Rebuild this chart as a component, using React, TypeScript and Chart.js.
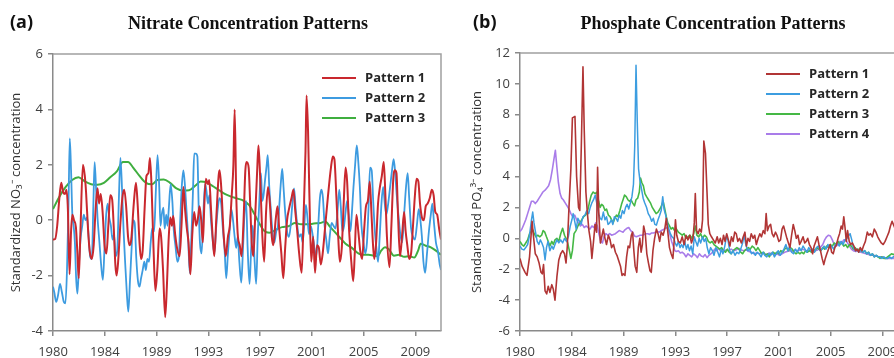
import React, { useEffect, useRef } from "react";
import { Chart, registerables } from "chart.js";

Chart.register(...registerables);

// ---- Axis labels -------------------------------------------------------
const X_TICK_LABELS = ["1980", "1984", "1989", "1993", "1997", "2001", "2005", "2009"];
const X_START = 1980;
const X_END = 2010.5;
const X_TICK_STEP = 4.07; // years between labelled ticks

// ---- Data: [years since Jan 1980, standardized value] -------------------
// Panel (a) nitrate
const nitrateP1: [number, number][] = [
  [0, -0.7], [0.17, -0.68], [0.33, -0.2], [0.5, 0.8], [0.65, 1.35], [0.8, 1.0], [0.95, 0.95], [1.05, 1.1], [1.17, 0.4], [1.3, -1.95],
  [1.42, -0.4], [1.52, 0.2], [1.65, 0.0], [1.8, -0.25], [1.92, -1.2], [2.02, -2.1], [2.15, -0.5], [2.35, 2.0], [2.5, 1.6], [2.6, 1.0],
  [2.75, -0.3], [2.88, -1.1], [3.05, -1.4], [3.2, -0.9], [3.35, 0.4], [3.5, 1.15], [3.62, 0.6], [3.75, 0.95], [3.9, 0.3], [4.05, -0.9],
  [4.2, -1.2], [4.35, -0.2], [4.5, 0.9], [4.65, 0.75], [4.78, -0.3], [4.9, -1.6], [5.0, -2.0], [5.12, -1.5], [5.3, -0.1], [5.45, 0.8],
  [5.6, 1.1], [5.75, 0.5], [5.9, -0.6], [6.02, -0.9], [6.15, -0.7], [6.35, 0.6], [6.52, 1.35], [6.65, 0.6], [6.8, -0.8], [6.92, -1.4],
  [7.05, -1.1], [7.2, 0.4], [7.35, 1.6], [7.5, 1.7], [7.62, 2.25], [7.75, 1.2], [7.9, -1.0], [8.05, -2.55], [8.2, -1.8], [8.38, -0.3],
  [8.5, -0.6], [8.65, -1.8], [8.82, -3.5], [8.95, -2.4], [9.1, -0.6], [9.22, 0.1], [9.35, -0.2], [9.45, 0.15], [9.6, -0.5], [9.75, -1.0],
  [9.95, -1.3], [10.1, -0.2], [10.25, 1.2], [10.38, 0.4], [10.52, -0.3], [10.65, -0.8], [10.8, -1.95], [10.95, -0.5], [11.1, 0.3], [11.25, -0.2],
  [11.4, 0.1], [11.52, 0.5], [11.65, 0.0], [11.78, -0.8], [11.9, 0.6], [12.02, 1.5], [12.18, 1.3], [12.28, 1.45], [12.42, 0.4], [12.55, -0.6],
  [12.68, -1.3], [12.85, 0.2], [13.02, 1.6], [13.1, 1.8], [13.25, 1.0], [13.4, -0.4], [13.58, -1.3], [13.75, -0.6], [13.9, -0.2], [14.05, 0.9],
  [14.18, 2.0], [14.28, 4.0], [14.4, 1.0], [14.52, -0.5], [14.68, -0.9], [14.82, -1.3], [14.98, 0.0], [15.12, 1.8], [15.22, 2.1], [15.38, 1.9],
  [15.5, 0.6], [15.62, -0.8], [15.75, -1.3], [15.9, 0.2], [16.05, 1.8], [16.15, 2.7], [16.28, 1.6], [16.45, -0.5], [16.6, -1.5], [16.75, 0.3],
  [16.9, 1.2], [17.05, 0.6], [17.2, -0.6], [17.32, -0.9], [17.5, 0.0], [17.65, 0.5], [17.78, -0.3], [17.95, -1.2], [18.1, -2.1], [18.25, -1.0],
  [18.4, 0.0], [18.55, 0.4], [18.75, 0.8], [18.9, 1.1], [19.05, 0.3], [19.18, -0.3], [19.35, -1.2], [19.55, -1.9], [19.7, 0.2], [19.85, 2.5],
  [19.93, 4.5], [20.05, 3.2], [20.15, 1.0], [20.3, -1.5], [20.45, -0.6], [20.6, -1.9], [20.75, -0.9], [20.9, -1.0], [21.05, -1.6], [21.2, -1.2],
  [21.4, -0.2], [21.6, 0.8], [21.85, 1.9], [22.0, 2.3], [22.12, 2.2], [22.28, 0.8], [22.42, -0.6], [22.55, -1.5], [22.7, -1.0], [22.85, 0.6],
  [23.0, 1.9], [23.12, 1.4], [23.28, -0.4], [23.45, -1.5], [23.6, -2.2], [23.72, -1.2], [23.85, 0.2], [24.0, -0.4], [24.15, -1.1], [24.3, -1.4],
  [24.45, -0.4], [24.6, 0.5], [24.75, 0.7], [24.9, 1.4], [25.0, 0.6], [25.12, -0.6], [25.25, -1.4], [25.4, -0.8], [25.55, 0.6], [25.7, 1.2],
  [25.85, 1.6], [26.0, 2.1], [26.12, 1.0], [26.25, -0.6], [26.45, -1.7], [26.6, -0.2], [26.75, 1.5], [26.88, 1.8], [27.0, 1.7], [27.12, 0.2],
  [27.28, -1.3], [27.45, -0.5], [27.6, 0.3], [27.72, -0.4], [27.85, -0.9], [28.0, -1.4], [28.15, -1.2], [28.3, -0.2], [28.45, 0.9], [28.58, 1.5],
  [28.72, 1.4], [28.85, 0.6], [29.0, 0.1], [29.15, 0.0], [29.3, 0.5], [29.45, 0.6], [29.62, 0.8], [29.78, 1.1], [29.92, 0.9], [30.05, 0.3],
  [30.2, 0.2], [30.35, -0.3], [30.5, -0.7],
];

const nitrateP2: [number, number][] = [
  [0, -2.4], [0.1, -2.6], [0.25, -2.95], [0.4, -2.7], [0.55, -2.3], [0.7, -2.6], [0.85, -2.95], [0.98, -3.0], [1.1, -1.8], [1.22, 0.6],
  [1.32, 2.95], [1.42, 1.8], [1.52, 0.2], [1.62, -0.2], [1.72, -0.8], [1.82, -2.1], [1.92, -2.65], [2.05, -1.5], [2.18, -0.6], [2.3, -0.2],
  [2.42, 0.2], [2.55, 0.0], [2.68, 0.1], [2.8, -0.6], [2.92, -1.3], [3.05, -1.4], [3.17, 0.5], [3.27, 2.1], [3.38, 1.2], [3.5, 0.1],
  [3.65, -0.8], [3.8, -1.7], [3.92, -2.15], [4.05, -1.0], [4.18, 0.2], [4.3, 0.6], [4.42, 0.1], [4.55, -0.2], [4.68, -0.7], [4.8, -0.5],
  [4.92, -1.3], [5.05, -1.1], [5.18, 0.8], [5.3, 2.25], [5.42, 1.2], [5.55, -0.4], [5.68, -1.6], [5.8, -2.6], [5.92, -3.3], [6.05, -2.2],
  [6.18, -1.0], [6.3, 0.0], [6.42, -0.1], [6.55, -1.4], [6.68, -2.2], [6.8, -2.4], [6.92, -2.1], [7.05, -1.8], [7.18, -1.5], [7.3, -1.8],
  [7.42, -1.4], [7.55, -1.5], [7.68, -0.8], [7.8, -0.3], [7.95, -0.4], [8.08, 1.0], [8.22, 2.35], [8.35, 1.2], [8.45, -0.2], [8.55, 0.2],
  [8.68, 0.45], [8.78, -0.3], [8.9, 0.2], [9.0, -0.2], [9.1, 0.4], [9.25, 1.3], [9.38, 0.7], [9.5, -0.4], [9.62, -0.9], [9.78, -1.5],
  [9.9, -1.3], [10.0, 0.0], [10.12, 1.2], [10.25, 1.8], [10.38, 1.2], [10.5, 0.3], [10.62, -0.6], [10.75, -1.9], [10.88, -0.6], [11.0, 1.0],
  [11.1, 2.4], [11.22, 2.4], [11.35, 2.3], [11.45, 0.5], [11.55, -0.8], [11.68, -1.2], [11.8, 0.0], [11.95, 1.3], [12.05, 1.1], [12.18, 0.6],
  [12.3, 0.9], [12.42, 0.0], [12.55, -0.7], [12.68, -1.2], [12.82, -0.3], [12.95, 0.4], [13.08, 0.8], [13.22, 0.6], [13.35, -0.3], [13.48, -1.0],
  [13.62, -2.1], [13.75, -1.2], [13.88, -0.4], [14.02, 0.4], [14.15, 0.0], [14.28, -0.6], [14.4, -1.0], [14.52, -0.6], [14.65, -1.5], [14.8, -2.25],
  [14.92, -1.2], [15.05, 0.2], [15.18, 0.7], [15.3, -1.0], [15.45, -2.3], [15.58, -1.0], [15.7, -0.2], [15.85, -1.5], [15.97, -2.3], [16.1, -0.5],
  [16.25, 1.0], [16.35, 1.7], [16.45, 0.7], [16.55, 0.9], [16.68, 1.5], [16.8, 2.0], [16.88, 2.35], [17.0, 1.2], [17.12, 0.4], [17.25, -0.4],
  [17.4, -0.8], [17.55, -0.4], [17.68, -0.2], [17.8, 0.6], [17.92, 1.4], [18.02, 1.85], [18.12, 1.2], [18.25, 0.3], [18.4, -0.4], [18.55, -0.6],
  [18.68, -0.2], [18.8, 0.5], [18.95, 1.15], [19.08, 0.4], [19.2, -0.2], [19.35, -0.6], [19.5, -0.5], [19.62, -0.8], [19.75, -0.2], [19.88, 0.55],
  [20.0, 0.1], [20.12, -0.5], [20.25, -0.2], [20.4, -0.5], [20.55, -1.0], [20.7, -1.3], [20.85, -0.2], [20.98, 0.8], [21.1, 1.1], [21.22, 0.8],
  [21.35, -0.2], [21.48, -0.7], [21.62, -1.2], [21.75, -0.6], [21.9, -0.1], [22.05, -0.2], [22.2, -0.3], [22.35, 0.2], [22.5, 1.1], [22.62, 0.5],
  [22.75, -0.4], [22.88, -0.2], [23.0, 0.3], [23.12, 0.7], [23.25, 0.2], [23.38, -0.4], [23.5, 0.3], [23.62, 1.2], [23.75, 2.0], [23.88, 2.7],
  [24.0, 2.1], [24.12, 1.2], [24.25, -0.2], [24.4, -0.8], [24.55, -1.2], [24.68, -0.8], [24.8, 0.4], [24.92, 1.9], [25.05, 1.8], [25.18, 0.6],
  [25.3, -0.4], [25.42, -1.0], [25.55, -1.5], [25.68, -0.6], [25.82, 0.6], [25.95, 1.2], [26.08, 0.6], [26.2, 0.2], [26.35, 0.6], [26.5, 1.2],
  [26.65, 1.8], [26.78, 2.2], [26.9, 1.7], [27.02, 0.9], [27.15, 0.2], [27.3, -0.5], [27.45, -0.8], [27.6, 0.2], [27.75, 1.2], [27.88, 1.7],
  [28.0, 0.8], [28.15, -0.3], [28.3, -0.6], [28.45, -0.7], [28.6, -0.2], [28.75, 0.4], [28.88, 0.0], [29.0, -0.6], [29.12, -1.5], [29.25, -1.9],
  [29.4, -1.2], [29.55, -0.4], [29.7, 0.2], [29.82, 0.6], [29.95, -0.1], [30.1, -0.8], [30.25, -1.1], [30.4, -1.6], [30.5, -1.8],
];

const nitrateP3: [number, number][] = [
  [0, 0.4], [0.5, 0.85], [1.0, 1.2], [1.5, 1.45], [2.0, 1.55], [2.5, 1.4], [3.0, 1.3], [3.5, 1.28], [4.0, 1.35], [4.5, 1.55],
  [5.0, 1.75], [5.5, 2.1], [5.9, 2.1], [6.3, 1.9], [6.8, 1.6], [7.3, 1.35], [7.8, 1.3], [8.2, 1.45], [8.7, 1.47], [9.2, 1.35],
  [9.7, 1.15], [10.2, 1.07], [10.7, 1.08], [11.2, 1.25], [11.6, 1.4], [12.0, 1.38], [12.5, 1.25], [13.0, 1.1], [13.5, 0.95], [14.0, 0.85],
  [14.5, 0.78], [15.0, 0.7], [15.4, 0.55], [15.8, 0.25], [16.2, -0.1], [16.6, -0.38], [17.0, -0.45], [17.5, -0.35], [18.0, -0.25], [18.5, -0.22],
  [19.0, -0.1], [19.5, -0.15], [20.0, -0.15], [20.5, -0.12], [21.0, -0.1], [21.4, -0.05], [21.8, -0.25], [22.2, -0.45], [22.6, -0.65], [23.0, -0.85],
  [23.5, -1.0], [24.0, -1.2], [24.4, -1.25], [24.8, -1.25], [25.2, -1.28], [25.5, -1.3], [25.8, -1.1], [26.1, -0.98], [26.4, -1.05], [26.8, -1.28],
  [27.2, -1.25], [27.6, -1.32], [28.0, -1.3], [28.4, -1.35], [28.7, -1.1], [28.9, -0.85], [29.3, -0.92], [29.7, -0.98], [30.1, -1.1], [30.5, -1.25],
];

// Panel (b) phosphate
const phosphateP1: [number, number][] = [
  [0, -1.3], [0.16, -1.8], [0.4, -2.2], [0.55, -2.4], [0.75, -1.2], [0.95, 1.1], [1.05, 0.2], [1.2, -1.0], [1.35, -1.2], [1.5, -1.6],
  [1.65, -2.2], [1.75, -2.3], [1.85, -1.7], [1.97, -3.4], [2.1, -3.6], [2.22, -3.1], [2.35, -3.5], [2.5, -3.0], [2.62, -3.3], [2.75, -4.0],
  [2.9, -2.5], [3.05, -1.4], [3.2, -1.0], [3.35, -0.8], [3.5, -1.0], [3.62, -1.6], [3.72, -0.5], [3.85, 2.0], [4.0, 4.5], [4.12, 7.8],
  [4.32, 7.9], [4.45, 4.0], [4.6, 2.0], [4.7, 1.8], [4.82, 6.0], [4.95, 11.1], [5.05, 7.0], [5.18, 3.0], [5.3, 1.6], [5.42, 0.5],
  [5.55, -0.2], [5.65, -1.3], [5.78, -0.2], [5.9, 0.9], [6.02, 0.4], [6.1, 4.6], [6.2, 1.5], [6.32, -0.3], [6.45, 0.2], [6.55, 0.6],
  [6.68, 0.0], [6.8, -0.4], [6.95, 0.2], [7.08, -0.1], [7.2, -0.6], [7.35, -0.4], [7.5, -0.9], [7.62, -1.1], [7.78, -1.5], [7.9, -1.8],
  [8.02, -2.4], [8.12, -2.3], [8.25, -2.4], [8.38, -1.2], [8.5, -0.5], [8.62, -0.6], [8.75, 0.2], [8.85, 0.4], [8.95, -0.8], [9.05, -1.8],
  [9.18, -2.2], [9.3, -0.6], [9.42, 0.0], [9.52, -0.9], [9.62, -0.4], [9.72, 0.8], [9.85, 0.3], [9.97, -1.0], [10.1, -1.6], [10.22, -2.1],
  [10.32, -2.2], [10.45, -0.8], [10.58, 0.0], [10.72, 0.6], [10.85, 0.3], [10.98, -0.2], [11.1, 0.4], [11.25, 0.2], [11.38, 0.6], [11.5, 1.3],
  [11.62, 0.4], [11.75, -0.6], [11.88, -1.0], [12.02, -1.3], [12.15, 0.2], [12.22, 1.2], [12.32, 0.2], [12.45, -0.2], [12.6, -0.3], [12.75, 0.1],
  [12.9, -0.4], [13.05, 0.2], [13.2, -0.1], [13.35, 0.2], [13.48, -0.3], [13.6, 0.0], [13.7, 1.0], [13.78, 2.9], [13.88, 0.5], [14.0, 0.3],
  [14.12, 0.6], [14.25, 0.4], [14.35, 1.2], [14.45, 6.3], [14.58, 5.5], [14.7, 3.0], [14.8, 0.9], [14.92, 0.3], [15.05, 0.1], [15.2, -0.1],
  [15.35, -0.3], [15.5, 0.1], [15.62, -0.3], [15.75, 0.0], [15.88, -0.4], [16.0, 0.2], [16.12, -0.2], [16.25, 0.3], [16.38, -0.1], [16.5, -0.5],
  [16.62, 0.1], [16.75, -0.2], [16.88, 0.4], [17.0, 0.3], [17.12, -0.2], [17.25, 0.0], [17.4, -0.3], [17.55, 0.1], [17.68, 0.4], [17.8, -0.5],
  [17.92, 0.0], [18.05, -0.2], [18.18, 0.3], [18.32, 0.0], [18.45, 0.2], [18.58, -0.4], [18.72, 0.0], [18.85, 0.3], [18.98, 0.1], [19.12, 0.5],
  [19.25, 0.3], [19.35, 1.6], [19.45, 0.5], [19.58, 0.8], [19.7, 0.9], [19.82, 0.3], [19.95, 0.1], [20.08, 0.4], [20.2, 0.2], [20.35, -0.2],
  [20.48, -0.1], [20.6, 0.6], [20.72, 0.8], [20.85, 0.4], [20.98, 0.0], [21.1, -0.3], [21.22, -0.6], [21.35, 0.2], [21.48, 0.9], [21.6, 0.5],
  [21.72, 0.0], [21.85, 0.2], [21.98, -0.4], [22.1, -0.2], [22.25, 0.1], [22.38, -0.3], [22.5, -0.2], [22.62, 0.0], [22.75, -0.4], [22.88, -0.6],
  [23.0, -1.0], [23.12, -0.5], [23.25, -0.2], [23.38, 0.1], [23.5, -0.4], [23.62, -0.8], [23.75, -1.3], [23.88, -1.7], [24.0, -1.3], [24.12, -1.0],
  [24.25, -0.7], [24.38, -0.4], [24.5, -0.9], [24.62, -1.0], [24.75, -0.6], [24.88, -0.4], [25.0, 0.0], [25.12, 0.3], [25.25, 0.8], [25.35, 0.6],
  [25.45, 1.4], [25.55, 0.7], [25.65, -0.2], [25.75, 0.5], [25.88, -0.2], [26.0, -0.4], [26.12, -0.3], [26.25, -0.5], [26.38, -0.8], [26.5, -0.7],
  [26.62, -0.9], [26.75, -0.6], [26.88, -0.8], [27.0, -0.5], [27.15, -0.2], [27.3, 0.4], [27.42, 0.2], [27.55, 0.3], [27.7, 0.1], [27.85, 0.6],
  [27.98, 0.4], [28.12, 0.1], [28.25, -0.1], [28.4, -0.3], [28.55, -0.4], [28.7, -0.2], [28.85, 0.1], [29.0, 0.4], [29.12, 0.8], [29.25, 1.1],
  [29.4, 0.8], [29.55, 0.5], [29.7, 0.3],
];

const phosphateP2: [number, number][] = [
  [0, -0.5], [0.15, -0.7], [0.3, -0.75], [0.45, -0.6], [0.6, -0.4], [0.75, 0.2], [0.9, 1.2], [1.0, 1.7], [1.1, 1.0], [1.22, 0.4],
  [1.35, -0.2], [1.48, -0.4], [1.6, -0.1], [1.72, -0.3], [1.85, -0.6], [1.97, -1.4], [2.08, -0.6], [2.2, -0.2], [2.35, -0.8], [2.5, -0.5],
  [2.62, -0.7], [2.75, -0.4], [2.9, -0.1], [3.05, -0.3], [3.2, -0.1], [3.35, -0.3], [3.5, 0.0], [3.65, -0.2], [3.8, 0.1], [3.95, 0.8],
  [4.08, 1.2], [4.18, 1.6], [4.3, 1.1], [4.42, 0.6], [4.55, 1.3], [4.68, 1.1], [4.8, 0.9], [4.95, 1.4], [5.1, 1.5], [5.25, 1.8],
  [5.4, 1.6], [5.52, 2.0], [5.65, 2.3], [5.78, 2.5], [5.92, 2.8], [6.05, 2.2], [6.18, 1.6], [6.3, 1.3], [6.42, 1.2], [6.55, 1.7],
  [6.68, 1.2], [6.8, 1.4], [6.92, 0.9], [7.05, 1.0], [7.18, 1.2], [7.3, 0.9], [7.42, 1.4], [7.55, 1.3], [7.68, 1.1], [7.8, 1.5],
  [7.92, 1.3], [8.05, 1.8], [8.18, 1.6], [8.3, 2.0], [8.42, 2.2], [8.55, 1.9], [8.68, 2.3], [8.8, 2.7], [8.92, 3.5], [9.02, 6.0],
  [9.12, 11.2], [9.22, 7.5], [9.32, 4.5], [9.42, 3.8], [9.55, 3.2], [9.68, 2.6], [9.8, 2.3], [9.95, 2.0], [10.08, 1.6], [10.22, 1.4],
  [10.35, 1.1], [10.48, 1.3], [10.6, 0.9], [10.72, 0.85], [10.85, 1.2], [10.98, 1.5], [11.1, 1.8], [11.22, 2.7], [11.32, 1.9], [11.45, 1.5],
  [11.58, 1.0], [11.7, 0.6], [11.82, 0.3], [11.95, 0.1], [12.08, 0.0], [12.2, -0.3], [12.32, -0.5], [12.45, -0.2], [12.58, -0.6], [12.7, -0.4],
  [12.82, -0.6], [12.95, -0.2], [13.08, -0.7], [13.2, -0.4], [13.32, -0.8], [13.45, -0.5], [13.58, -1.0], [13.7, 0.1], [13.82, -0.2], [13.95, -0.5],
  [14.08, 0.0], [14.2, -0.3], [14.35, 0.1], [14.48, -0.2], [14.6, 0.0], [14.72, -0.6], [14.85, -1.0], [14.98, -0.6], [15.12, -0.8], [15.25, -1.1],
  [15.4, -0.6], [15.55, -0.9], [15.68, -1.2], [15.82, -0.7], [15.95, -1.0], [16.1, -0.5], [16.22, 0.1], [16.35, -0.1], [16.48, -0.8], [16.6, -1.0],
  [16.75, -0.8], [16.9, -1.1], [17.05, -0.9], [17.2, -1.0], [17.35, -0.7], [17.5, -0.3], [17.62, 0.2], [17.75, -0.4], [17.9, -0.8], [18.05, -0.7],
  [18.2, -1.0], [18.35, -0.9], [18.5, -1.1], [18.65, -0.9], [18.8, -1.0], [18.95, -1.2], [19.1, -0.9], [19.25, -1.1], [19.4, -1.2], [19.55, -1.0],
  [19.7, -1.1], [19.85, -0.9], [20.0, -1.2], [20.15, -1.0], [20.3, -0.8], [20.45, -1.1], [20.6, -0.9], [20.75, -0.7], [20.9, -0.4], [21.05, -0.8],
  [21.2, -0.5], [21.35, -0.9], [21.5, -1.0], [21.65, -0.7], [21.8, -0.9], [21.95, -0.6], [22.1, -0.8], [22.25, -0.5], [22.4, -0.7], [22.55, -0.9],
  [22.7, -0.6], [22.85, -0.8], [23.0, -0.7], [23.15, -0.9], [23.3, -0.6], [23.45, -0.5], [23.6, -0.8], [23.75, -0.7], [23.9, -0.5], [24.05, -0.7],
  [24.2, -0.4], [24.35, -0.6], [24.5, -0.5], [24.65, -0.7], [24.8, -0.4], [24.95, -0.3], [25.1, -0.5], [25.25, -0.2], [25.4, -0.4], [25.55, -0.1],
  [25.7, 0.0], [25.85, 0.2], [25.95, 0.3], [26.08, -0.1], [26.2, -0.6], [26.35, -0.8], [26.5, -0.7], [26.65, -0.9], [26.8, -0.7], [26.95, -0.9],
  [27.1, -0.8], [27.25, -1.0], [27.4, -0.9], [27.55, -1.1], [27.7, -1.0], [27.85, -1.2], [28.0, -1.1], [28.15, -1.2], [28.3, -1.2], [28.45, -1.3],
  [28.6, -1.2], [28.75, -1.3], [28.9, -1.3], [29.05, -1.2], [29.2, -1.3], [29.35, -1.2], [29.5, -1.1], [29.7, -1.1],
];

const phosphateP3: [number, number][] = [
  [0, -0.2], [0.15, -0.4], [0.3, -0.5], [0.45, -0.3], [0.6, -0.1], [0.75, 0.3], [0.9, 0.5], [1.0, 0.55], [1.12, 0.3], [1.25, 0.1],
  [1.4, 0.2], [1.55, 0.1], [1.7, 0.2], [1.82, 0.5], [1.95, 0.4], [2.08, 0.1], [2.22, -0.2], [2.35, -0.5], [2.5, -0.2], [2.62, -0.4],
  [2.75, -0.1], [2.9, 0.0], [3.05, -0.2], [3.2, 0.3], [3.35, 0.65], [3.5, 0.2], [3.62, 0.0], [3.75, -0.3], [3.88, -0.8], [4.0, -1.3],
  [4.12, -0.8], [4.25, 0.3], [4.4, 0.5], [4.55, 0.8], [4.7, 1.0], [4.85, 1.2], [5.0, 1.4], [5.15, 1.5], [5.3, 1.7], [5.45, 2.3],
  [5.6, 2.8], [5.75, 3.0], [5.9, 2.9], [6.05, 3.0], [6.18, 2.4], [6.3, 2.0], [6.42, 2.2], [6.55, 2.1], [6.68, 1.8], [6.8, 1.9],
  [6.95, 1.5], [7.08, 1.4], [7.2, 1.2], [7.32, 1.0], [7.45, 1.3], [7.58, 1.5], [7.7, 1.4], [7.85, 1.8], [7.98, 2.2], [8.1, 2.5],
  [8.22, 2.8], [8.35, 2.7], [8.48, 2.5], [8.6, 2.4], [8.72, 2.5], [8.85, 2.3], [9.0, 2.1], [9.12, 2.5], [9.25, 2.6], [9.38, 3.0],
  [9.48, 3.9], [9.58, 3.6], [9.7, 3.4], [9.82, 2.9], [9.95, 2.7], [10.1, 2.5], [10.25, 2.3], [10.4, 2.0], [10.55, 1.8], [10.7, 1.6],
  [10.85, 1.7], [11.0, 1.9], [11.12, 2.1], [11.25, 2.4], [11.38, 1.9], [11.5, 1.4], [11.62, 1.0], [11.75, 0.8], [11.88, 0.6], [12.0, 0.7],
  [12.15, 0.5], [12.3, 0.6], [12.45, 0.4], [12.6, 0.3], [12.75, 0.2], [12.9, 0.3], [13.05, 0.0], [13.2, 0.1], [13.35, 0.2], [13.5, 0.0],
  [13.65, 0.3], [13.78, 0.8], [13.9, 0.2], [14.05, 0.1], [14.2, 0.3], [14.35, 0.0], [14.5, 0.2], [14.65, 0.1], [14.8, -0.2], [14.95, -0.3],
  [15.1, -0.2], [15.25, -0.4], [15.4, -0.5], [15.55, -0.6], [15.7, -0.7], [15.85, -0.6], [16.0, -0.8], [16.15, -0.9], [16.3, -0.7], [16.45, -0.9],
  [16.6, -1.0], [16.75, -0.8], [16.9, -0.7], [17.05, -0.6], [17.2, -0.7], [17.35, -0.9], [17.5, -1.0], [17.65, -0.8], [17.8, -0.7], [17.95, -0.6],
  [18.1, -0.7], [18.25, -0.5], [18.4, -0.6], [18.55, -0.8], [18.7, -0.6], [18.85, -0.8], [19.0, -1.0], [19.15, -0.9], [19.3, -1.1], [19.45, -1.0],
  [19.6, -1.2], [19.75, -1.0], [19.9, -0.9], [20.05, -1.0], [20.2, -0.9], [20.35, -1.0], [20.5, -0.8], [20.65, -0.9], [20.8, -0.7], [20.95, -0.6],
  [21.1, -0.8], [21.25, -0.6], [21.4, -0.7], [21.55, -0.9], [21.7, -1.0], [21.85, -0.9], [22.0, -1.0], [22.15, -0.9], [22.3, -1.0], [22.45, -0.8],
  [22.6, -0.9], [22.75, -0.8], [22.9, -0.9], [23.05, -0.7], [23.2, -0.8], [23.35, -0.6], [23.5, -0.7], [23.65, -0.8], [23.8, -0.6], [23.95, -0.7],
  [24.1, -0.5], [24.25, -0.6], [24.4, -0.4], [24.55, -0.5], [24.7, -0.3], [24.85, -0.4], [25.0, -0.2], [25.15, -0.4], [25.3, -0.3], [25.45, -0.5],
  [25.6, -0.4], [25.75, -0.6], [25.9, -0.4], [26.05, -0.5], [26.2, -0.7], [26.35, -0.6], [26.5, -0.8], [26.65, -0.7], [26.8, -0.8], [26.95, -0.9],
  [27.1, -0.8], [27.25, -1.0], [27.4, -0.9], [27.55, -1.1], [27.7, -1.0], [27.85, -1.2], [28.0, -1.1], [28.15, -1.2], [28.3, -1.3], [28.45, -1.2],
  [28.6, -1.3], [28.75, -1.3], [28.9, -1.2], [29.05, -1.1], [29.2, -1.0], [29.35, -1.05], [29.5, -1.0], [29.7, -1.0],
];

const phosphateP4: [number, number][] = [
  [0, 0.45], [0.15, 0.6], [0.3, 0.9], [0.45, 1.2], [0.6, 1.6], [0.75, 2.0], [0.9, 2.4], [1.05, 2.4], [1.2, 2.25], [1.35, 2.4],
  [1.5, 2.6], [1.65, 2.8], [1.8, 3.0], [1.95, 3.1], [2.1, 3.25], [2.25, 3.4], [2.4, 3.8], [2.55, 4.5], [2.68, 5.2], [2.78, 5.7],
  [2.9, 4.6], [3.02, 3.6], [3.15, 2.9], [3.28, 2.6], [3.4, 2.5], [3.55, 2.3], [3.7, 2.1], [3.85, 1.9], [4.0, 1.6], [4.15, 1.4],
  [4.3, 1.5], [4.45, 1.2], [4.6, 1.0], [4.75, 0.8], [4.9, 0.9], [5.05, 0.7], [5.2, 0.8], [5.35, 0.7], [5.5, 0.6], [5.65, 0.8],
  [5.8, 0.7], [5.95, 1.0], [6.08, 0.8], [6.2, 0.3], [6.35, -0.2], [6.48, -0.3], [6.6, 0.1], [6.75, 0.3], [6.9, 0.2], [7.05, 0.3],
  [7.2, 0.2], [7.35, 0.25], [7.5, 0.3], [7.65, 0.4], [7.8, 0.5], [7.95, 0.45], [8.1, 0.4], [8.25, 0.55], [8.4, 0.65], [8.55, 0.7],
  [8.7, 0.5], [8.85, 0.4], [9.0, 0.15], [9.15, 0.1], [9.3, 0.15], [9.45, 0.2], [9.6, 0.2], [9.75, 0.25], [9.9, 0.3], [10.05, 0.3],
  [10.2, 0.25], [10.35, 0.35], [10.5, 0.35], [10.65, 0.4], [10.8, 0.45], [10.95, 0.4], [11.1, 0.5], [11.25, 0.55], [11.4, 0.65], [11.55, 0.7],
  [11.68, 0.5], [11.8, 0.2], [11.92, -0.2], [12.05, -0.5], [12.18, -0.8], [12.3, -0.85], [12.45, -0.8], [12.6, -0.95], [12.75, -0.9], [12.9, -1.0],
  [13.05, -1.2], [13.2, -1.0], [13.35, -1.1], [13.5, -1.2], [13.65, -1.0], [13.8, -1.1], [13.95, -1.25], [14.1, -1.0], [14.25, -1.15], [14.4, -1.2],
  [14.55, -1.05], [14.7, -1.25], [14.85, -1.1], [15.0, -1.0], [15.15, -0.9], [15.3, -0.7], [15.45, -0.8], [15.6, -0.65], [15.75, -0.8], [15.9, -0.7],
  [16.05, -0.85], [16.2, -0.75], [16.4, -0.8], [16.6, -0.7], [16.8, -0.8], [17.0, -0.75], [17.2, -0.65], [17.4, -0.75], [17.6, -0.8], [17.8, -0.75],
  [18.0, -0.85], [18.2, -0.9], [18.4, -1.0], [18.6, -0.95], [18.8, -1.0], [19.0, -0.95], [19.2, -1.0], [19.4, -1.05], [19.6, -0.95], [19.8, -1.0],
  [20.0, -1.05], [20.2, -1.0], [20.4, -1.1], [20.6, -1.0], [20.8, -0.9], [21.0, -0.85], [21.2, -0.8], [21.4, -0.85], [21.6, -0.75], [21.8, -0.8],
  [22.0, -0.75], [22.2, -0.7], [22.4, -0.75], [22.6, -0.85], [22.8, -0.8], [23.0, -0.9], [23.2, -0.8], [23.4, -0.75], [23.6, -0.6], [23.8, -0.4],
  [23.95, -0.1], [24.1, 0.1], [24.25, 0.2], [24.4, 0.15], [24.55, -0.1], [24.7, -0.4], [24.85, -0.5], [25.0, -0.4], [25.15, -0.2], [25.3, -0.3],
  [25.45, -0.1], [25.6, -0.1], [25.75, -0.3], [25.9, -0.5], [26.05, -0.7], [26.2, -0.8], [26.4, -0.85], [26.6, -0.8], [26.8, -0.9], [27.0, -0.95],
  [27.2, -1.0], [27.4, -1.05], [27.6, -1.1], [27.8, -1.1], [28.0, -1.15], [28.2, -1.2], [28.4, -1.2], [28.6, -1.25], [28.8, -1.3], [29.0, -1.3],
  [29.2, -1.3], [29.4, -1.3], [29.7, -1.3],
];

// ---- Plugins -------------------------------------------------------------
const framePlugin = {
  id: "frame",
  afterDraw(chart: any, _a: any, opts: any) {
    const { ctx, chartArea: a } = chart;
    ctx.save();
    ctx.strokeStyle = opts.color || "#9a9a9a";
    ctx.lineWidth = opts.width || 1.5;
    ctx.beginPath();
    ctx.moveTo(a.left, a.top);
    ctx.lineTo(a.right, a.top);
    ctx.lineTo(a.right, a.bottom);
    ctx.stroke();
    ctx.restore();
  },
};

const insideLegend = {
  id: "insideLegend",
  afterDraw(chart: any, _a: any, opts: any) {
    const { ctx } = chart;
    ctx.save();
    ctx.font = 'bold 13px "Open Sans", sans-serif';
    ctx.textBaseline = "middle";
    ctx.textAlign = "left";
    chart.data.datasets.forEach((ds: any, i: number) => {
      const y = opts.y + i * opts.gap;
      ctx.strokeStyle = ds.borderColor;
      ctx.lineWidth = 2;
      ctx.beginPath();
      ctx.moveTo(opts.x, y);
      ctx.lineTo(opts.x + opts.len, y);
      ctx.stroke();
      ctx.fillStyle = "#262626";
      ctx.fillText(ds.label, opts.x + opts.len + opts.textGap, y + 0.5);
    });
    ctx.restore();
  },
};

type Series = { label: string; color: string; data: [number, number][]; width: number; smooth?: boolean };

function makeConfig(p: {
  series: Series[];
  yMin: number; yMax: number; yStep: number;
  yTitle: string; yTitlePad: number; yWidth: number;
  top: number; padRight: number;
  legend: { x: number; y: number; gap: number; len: number; textGap: number };
}) {
  const tickFont = { family: '"Open Sans", sans-serif', size: 13 };
  const textColor = "#404040";
  const axisColor = "#8a8a8a";
  return {
    type: "line" as const,
    data: {
      datasets: p.series.map((s) => ({
        label: s.label,
        data: s.data.map(([t, v]) => ({ x: X_START + t, y: v })),
        borderColor: s.color,
        backgroundColor: s.color,
        borderWidth: s.width,
        pointRadius: 0,
        tension: 0,
        cubicInterpolationMode: s.smooth ? "monotone" : "default",
        borderJoinStyle: "round",
        fill: false,
      })),
    },
    options: {
      animation: false,
      responsive: false,
      maintainAspectRatio: false,
      events: [],
      layout: { padding: { top: p.top, right: p.padRight, bottom: 0, left: 0 } },
      plugins: {
        legend: { display: false },
        tooltip: { enabled: false },
        title: { display: false },
        insideLegend: p.legend,
        frame: { color: "#a0a0a0", width: 1.5 },
      },
      scales: {
        x: {
          type: "linear",
          min: X_START,
          max: X_END,
          afterBuildTicks: (ax: any) => {
            ax.ticks = X_TICK_LABELS.map((_, i) => ({ value: X_START + i * X_TICK_STEP }));
          },
          afterFit: (s: any) => {
            s.height = 27;
          },
          ticks: {
            autoSkip: false,
            maxRotation: 0,
            padding: 8,
            font: tickFont,
            color: textColor,
            callback: (_v: any, i: number) => X_TICK_LABELS[i],
          },
          grid: { drawOnChartArea: false, drawTicks: true, tickLength: 5, color: axisColor, lineWidth: 1.5 },
          border: { display: true, color: axisColor, width: 1.5 },
        },
        y: {
          min: p.yMin,
          max: p.yMax,
          afterFit: (s: any) => {
            s.width = p.yWidth;
          },
          ticks: { stepSize: p.yStep, padding: 5, font: tickFont, color: textColor },
          grid: { drawOnChartArea: false, drawTicks: true, tickLength: 5, color: axisColor, lineWidth: 1.5 },
          border: { display: true, color: axisColor, width: 1.5 },
          title: {
            display: true,
            text: p.yTitle,
            color: "#333333",
            font: { family: '"Open Sans", sans-serif', size: 13 },
            padding: { top: p.yTitlePad, bottom: 0 },
          },
        },
      },
    },
    plugins: [framePlugin, insideLegend],
  };
}

function ChartCanvas({ config, width, height, left }: { config: any; width: number; height: number; left: number }) {
  const ref = useRef<HTMLCanvasElement | null>(null);
  useEffect(() => {
    if (!ref.current) return;
    const chart = new Chart(ref.current, config);
    return () => chart.destroy();
  }, [config]);
  return (
    <canvas
      ref={ref}
      width={width}
      height={height}
      style={{ position: "absolute", left, top: 0, width, height, display: "block" }}
    />
  );
}

const nitrateConfig = makeConfig({
  series: [
    { label: "Pattern 1", color: "#c9282e", data: nitrateP1, width: 2, smooth: true },
    { label: "Pattern 2", color: "#3d9be0", data: nitrateP2, width: 1.8, smooth: true },
    { label: "Pattern 3", color: "#3fae3f", data: nitrateP3, width: 2, smooth: true },
  ],
  yMin: -4, yMax: 6, yStep: 2,
  yTitle: "Standardized NO\u2083\u207B concentration",
  yTitlePad: 8, yWidth: 53,
  top: 54, padRight: 6,
  legend: { x: 322, y: 78, gap: 20, len: 34, textGap: 9 },
});

const phosphateConfig = makeConfig({
  series: [
    { label: "Pattern 1", color: "#b13535", data: phosphateP1, width: 1.6 },
    { label: "Pattern 2", color: "#3c9de0", data: phosphateP2, width: 1.5 },
    { label: "Pattern 3", color: "#45b845", data: phosphateP3, width: 1.6 },
    { label: "Pattern 4", color: "#a97ce9", data: phosphateP4, width: 1.6 },
  ],
  yMin: -6, yMax: 12, yStep: 2,
  yTitle: "Standardized PO\u2084\u00B3\u207B concentration",
  yTitlePad: 22, yWidth: 73,
  top: 53, padRight: 14,
  legend: { x: 319, y: 74, gap: 20, len: 34, textGap: 9 },
});

const panelLabel: React.CSSProperties = {
  position: "absolute",
  fontFamily: '"Open Sans", sans-serif',
  fontWeight: 700,
  fontSize: 18,
  lineHeight: "18px",
  color: "#111",
  whiteSpace: "nowrap",
};

const titleStyle: React.CSSProperties = {
  position: "absolute",
  width: 400,
  textAlign: "center",
  fontFamily: '"Liberation Serif", "Times New Roman", serif',
  fontWeight: 700,
  fontSize: 18,
  lineHeight: "18px",
  color: "#111",
  whiteSpace: "nowrap",
};

export default function App() {
  return (
    <div
      style={{
        position: "fixed",
        left: 0,
        top: 0,
        width: 894,
        height: 358,
        overflow: "hidden",
        background: "#ffffff",
      }}
    >
      <ChartCanvas config={nitrateConfig} width={447} height={358} left={0} />
      <ChartCanvas config={phosphateConfig} width={475} height={358} left={447} />
      <div style={{ ...panelLabel, left: 10, top: 12 }}>(a)</div>
      <div style={{ ...panelLabel, left: 473, top: 12 }}>(b)</div>
      <div style={{ ...titleStyle, left: 248 - 200, top: 14 }}>Nitrate Concentration Patterns</div>
      <div style={{ ...titleStyle, left: 713 - 200, top: 14 }}>Phosphate Concentration Patterns</div>
    </div>
  );
}
